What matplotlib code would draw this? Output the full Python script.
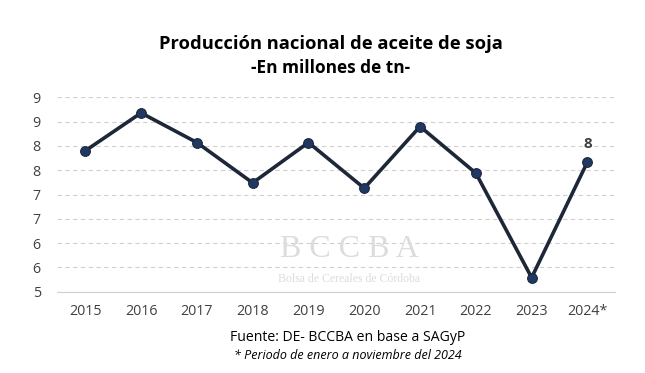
import matplotlib.pyplot as plt
from matplotlib.ticker import FixedLocator

# Data (millones de tn)
years = ['2015', '2016', '2017', '2018', '2019', '2020', '2021', '2022', '2023', '2024*']
production = [7.90, 8.68, 8.07, 7.24, 8.07, 7.13, 8.40, 7.44, 5.29, 7.67]
ytick_vals = [5, 5.5, 6, 6.5, 7, 7.5, 8, 8.5, 9]
ytick_labels = ['5', '6', '6', '7', '7', '8', '8', '9', '9']  # rounded like the source

plt.rcParams['font.family'] = ['Open Sans', 'DejaVu Sans']

fig = plt.figure(figsize=(6.45, 3.73), dpi=100)
ax = fig.add_axes([0.089, 0.218, 0.865, 0.521])

x = list(range(len(years)))
ax.plot(x, production, color='#1e2738', linewidth=2.6, zorder=3,
        marker='o', markersize=7, markerfacecolor='#1f3864',
        markeredgecolor='#1e2738', markeredgewidth=0.8)

# label only last point
ax.annotate('8', (x[-1], production[-1]), xytext=(0, 8), textcoords='offset points',
            ha='center', va='bottom', fontsize=11, fontweight='bold', color='#404040')

ax.set_xlim(-0.5, len(years) - 0.5)
ax.set_ylim(5, 9)
ax.yaxis.set_major_locator(FixedLocator(ytick_vals))
ax.set_yticklabels(ytick_labels)
ax.set_xticks(x)
ax.set_xticklabels(years)

ax.grid(axis='y', linestyle=(0, (4, 3)), color='#d0d0d0', linewidth=0.8)
ax.set_axisbelow(True)
for s in ['top', 'right', 'left']:
    ax.spines[s].set_visible(False)
ax.spines['bottom'].set_color('#d0d0d0')
ax.tick_params(axis='both', length=0, labelsize=10.3, labelcolor='#404040')
ax.tick_params(axis='x', pad=9)
ax.tick_params(axis='y', pad=12)

# watermark
fig.text(0.541, 0.33, 'B C C B A', fontsize=23, family='Liberation Serif',
         color='#dcdcdc', ha='center', va='center', zorder=0)
fig.text(0.541, 0.253, 'Bolsa de Cereales de Córdoba', fontsize=8.5, family='Liberation Serif',
         color='#dcdcdc', ha='center', va='center', zorder=0)

fig.text(0.513, 0.882, 'Producción nacional de aceite de soja', ha='center', va='center',
         fontsize=13.2, fontweight='bold', color='black')
fig.text(0.513, 0.818, '-En millones de tn-', ha='center', va='center',
         fontsize=12.4, fontweight='bold', color='black')
fig.text(0.539, 0.094, 'Fuente: DE- BCCBA en base a SAGyP', ha='center', va='center',
         fontsize=10.1, color='black')
fig.text(0.539, 0.048, '* Periodo de enero a noviembre del 2024', ha='center', va='center',
         fontsize=9, style='italic', color='black')

fig.savefig('out.png', dpi=100, facecolor='white')
